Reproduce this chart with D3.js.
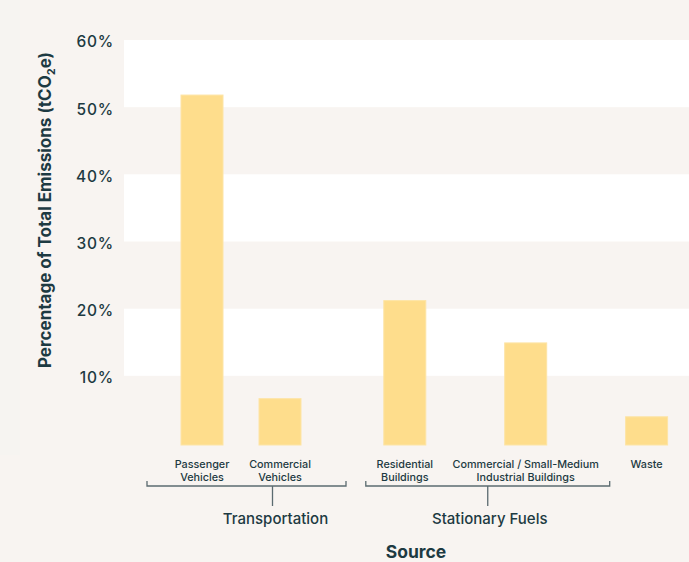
<!DOCTYPE html>
<html>
<head>
<meta charset="utf-8">
<script src="https://cdn.jsdelivr.net/npm/d3@7"></script>
<style>
  html, body { margin: 0; padding: 0; background: #f8f4f1; }
  svg { display: block; }
  text { font-family: Inter, "Noto Sans", sans-serif; fill: #1d3a42; }
</style>
</head>
<body>
<svg id="chart" width="689" height="562"></svg>
<script>
// ---- data ----
const categories = ["Passenger Vehicles", "Commercial Vehicles", "Residential Buildings", "Commercial / Small-Medium Industrial Buildings", "Waste"];
const categoryLines = [["Passenger", "Vehicles"], ["Commercial", "Vehicles"], ["Residential", "Buildings"], ["Commercial / Small-Medium", "Industrial Buildings"], ["Waste"]];
const values = [52.1, 6.9, 21.5, 15.2, 4.2];
const groups = ["Transportation", "Stationary Fuels"];
const groupMembers = [["Passenger Vehicles", "Commercial Vehicles"], ["Residential Buildings", "Commercial / Small-Medium Industrial Buildings"]];
const yTicks = [10, 20, 30, 40, 50, 60];
const yTickLabels = ["10%", "20%", "30%", "40%", "50%", "60%"];

// ---- layout ----
const W = 689, H = 562;
const slots = [0, 1, 2.6, 4.15, 5.7];
const bracketPad = [[55, 66], [39, 84]];
const stemShift = [26, 0];
const labelShift = [29, 2];
const barW = 42;

const svg = d3.select("#chart");

const y = d3.scaleLinear().domain([0, 60]).range([445, 42]);
const xSlot = d3.scaleLinear().domain([0, 1]).range([202, 280]);
const x = d3.scaleOrdinal().domain(categories).range(slots.map(s => xSlot(s)));

// background panels
svg.append("rect").attr("x", 0).attr("y", 0).attr("width", W).attr("height", H).attr("fill", "#f8f4f1");
svg.append("rect").attr("x", 0).attr("y", 0).attr("width", 20).attr("height", 455).attr("fill", "#f6f4f1");

// white alternating bands (60-50, 40-30, 20-10)
const bandPairs = [[50, 60], [30, 40], [10, 20]];
svg.append("g").selectAll("rect").data(bandPairs).join("rect")
  .attr("x", 124).attr("width", W - 124)
  .attr("y", d => y(d[1]) - 2)
  .attr("height", d => y(d[0]) - y(d[1]))
  .attr("fill", "#ffffff");

// bars
svg.append("g").selectAll("rect").data(categories).join("rect")
  .attr("x", d => x(d) - barW / 2)
  .attr("width", barW)
  .attr("y", (d, i) => y(values[i]))
  .attr("height", (d, i) => y(0) - y(values[i]))
  .attr("fill", "#fedd8c")
  .attr("stroke", "#fde4a6")
  .attr("stroke-width", 1);

// y axis labels
const yAxis = d3.axisLeft(y).tickValues(yTicks).tickFormat((d, i) => yTickLabels[i]).tickSize(0).tickPadding(0);
const gy = svg.append("g").attr("transform", "translate(114,0)").call(yAxis);
gy.select(".domain").remove();
gy.selectAll("text")
  .style("font-family", "Inter, sans-serif")
  .attr("font-size", 15.5).attr("font-weight", 500)
  .attr("letter-spacing", 0.8)
  .attr("fill", "#1d3a42").attr("dy", "0.32em");

// y title
const yt = svg.append("text")
  .attr("transform", "translate(51,210) rotate(-90)")
  .attr("text-anchor", "middle")
  .attr("font-size", 17).attr("font-weight", 700);
yt.append("tspan").text("Percentage of Total Emissions (tCO");
yt.append("tspan").attr("font-size", 11).attr("dy", 4).text("2");
yt.append("tspan").attr("dy", -4).text("e)");

// category labels
const cl = svg.append("g").selectAll("text").data(categories).join("text")
  .attr("text-anchor", "middle")
  .attr("x", d => x(d))
  .attr("y", 468)
  .attr("font-size", 10.8).attr("font-weight", 500);
cl.each(function(d, i) {
  const t = d3.select(this);
  categoryLines[i].forEach((line, j) => {
    t.append("tspan").attr("x", x(d)).attr("dy", j === 0 ? 0 : 12.5).text(line);
  });
});

// group brackets
groups.forEach((g, gi) => {
  const mem = groupMembers[gi];
  const x0 = x(mem[0]) - bracketPad[gi][0];
  const x1 = x(mem[mem.length - 1]) + bracketPad[gi][1];
  const mid = (x0 + x1) / 2;
  const by = 486;
  svg.append("path")
    .attr("d", `M${x0},${by - 5}V${by}H${x1}V${by - 5}M${mid + stemShift[gi]},${by}V${by + 20}`)
    .attr("fill", "none").attr("stroke", "#5b6b70").attr("stroke-width", 1.3);
  svg.append("text").attr("x", mid + labelShift[gi]).attr("y", 524)
    .attr("text-anchor", "middle").attr("font-size", 15).attr("font-weight", 500)
    .text(g);
});

// x title
svg.append("text").attr("x", 416).attr("y", 558)
  .attr("text-anchor", "middle").attr("font-size", 17.5).attr("font-weight", 700)
  .text("Source");
</script>
</body>
</html>
